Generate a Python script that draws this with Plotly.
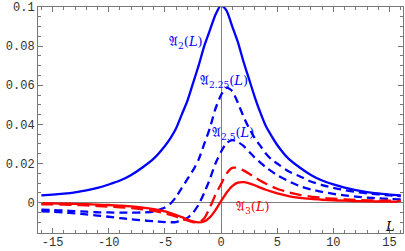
import plotly.graph_objects as go

L = [-16, -15, -14, -13, -12, -11, -10, -9, -8, -7, -6, -5, -4.5, -4, -3.5, -3, -2.5, -2, -1.5, -1, -0.5,
     0, 0.5, 1, 1.5, 2, 2.5, 3, 3.5, 4, 4.5, 5, 6, 7, 8, 9, 10, 11, 12, 13, 14, 15, 16]

A2 = [0.0037, 0.0041, 0.0046, 0.0053, 0.0063, 0.0076, 0.0093, 0.0113, 0.0142, 0.018, 0.0225, 0.029, 0.033,
      0.038, 0.045, 0.052, 0.061, 0.070, 0.080, 0.088, 0.096, 0.101, 0.098, 0.090, 0.082, 0.072, 0.063, 0.054,
      0.046, 0.039, 0.034, 0.0295, 0.0225, 0.018, 0.0142, 0.0113, 0.0093, 0.0077, 0.0064, 0.0054, 0.0047,
      0.0041, 0.0037]

A225 = [-0.0036, -0.0038, -0.004, -0.0043, -0.0046, -0.0049, -0.005, -0.0051, -0.0051, -0.005, -0.0045,
        -0.0025, -0.0005, 0.003, 0.0075, 0.012, 0.0165, 0.022, 0.030, 0.038, 0.048, 0.055, 0.0588, 0.057,
        0.051, 0.044, 0.038, 0.033, 0.029, 0.025, 0.022, 0.020, 0.016, 0.0135, 0.0108, 0.009, 0.0076, 0.0064,
        0.0055, 0.0048, 0.0042, 0.0037, 0.0034]

A25 = [-0.0044, -0.0046, -0.005, -0.0055, -0.006, -0.0066, -0.0072, -0.0079, -0.0085, -0.009, -0.0095,
       -0.0099, -0.010, -0.0099, -0.0092, -0.0078, -0.0052, -0.001, 0.005, 0.012, 0.020, 0.026, 0.0305, 0.032,
       0.031, 0.029, 0.026, 0.023, 0.0205, 0.018, 0.016, 0.014, 0.011, 0.0085, 0.0068, 0.0055, 0.0045, 0.0037,
       0.0031, 0.0026, 0.0022, 0.0019, 0.0017]

A275 = [-0.0008, -0.0009, -0.001, -0.0012, -0.0014, -0.0017, -0.002, -0.0024, -0.0028, -0.0034, -0.0042,
        -0.0055, -0.0063, -0.0072, -0.0082, -0.0091, -0.0099, -0.0102, -0.008, -0.0025, 0.004, 0.0095, 0.015,
        0.0178, 0.0178, 0.0165, 0.0148, 0.013, 0.0112, 0.0097, 0.0083, 0.0071, 0.0053, 0.004, 0.0031, 0.0025,
        0.002, 0.0017, 0.0014, 0.0012, 0.0011, 0.001, 0.0009]

A3 = [-0.0003, -0.0004, -0.0005, -0.0006, -0.0008, -0.001, -0.0012, -0.0015, -0.0019, -0.0025, -0.0033,
      -0.0045, -0.0053, -0.0063, -0.0074, -0.0086, -0.0096, -0.0101, -0.0096, -0.0075, -0.0038, 0.0008,
      0.0052, 0.0085, 0.0102, 0.0105, 0.0099, 0.0089, 0.0077, 0.0066, 0.0056, 0.0047, 0.0034, 0.0025, 0.0019,
      0.0015, 0.0012, 0.001, 0.0008, 0.0007, 0.0006, 0.0005, 0.0004]

x_ticks = [-15, -10, -5, 0, 5, 10, 15]
x_tick_labels = ["-15", "-10", "-5", "0", "5", "10", "15"]
y_ticks = [0, 0.02, 0.04, 0.06, 0.08, 0.1]
y_tick_labels = ["0", "0.02", "0.04", "0.06", "0.08", "0.1"]

BLUE = "rgb(0,0,255)"
RED = "rgb(255,0,0)"

series = [
    (A2, BLUE, "solid"),
    (A225, BLUE, "8px,5px"),
    (A25, BLUE, "8px,5px"),
    (A275, RED, "12px,6px"),
    (A3, RED, "solid"),
]

fig = go.Figure()
for ys, col, dash in series:
    fig.add_trace(go.Scatter(x=L, y=ys, mode="lines",
                             line=dict(color=col, width=2.3, dash=dash, shape="spline", smoothing=0.6),
                             showlegend=False, cliponaxis=True))

axis_common = dict(showline=True, linecolor="rgb(120,120,120)", linewidth=1, mirror="allticks",
                   ticks="inside", ticklen=5, tickcolor="rgb(120,120,120)", showgrid=False,
                   zeroline=True, zerolinecolor="rgb(128,128,128)", zerolinewidth=1, automargin=False,
                   tickfont=dict(family="Liberation Mono", size=12, color="rgb(50,50,50)"))

fig.update_xaxes(range=[-16.3, 16.2], tickvals=x_ticks, ticktext=x_tick_labels, ticklabelstandoff=-2,
                 minor=dict(dtick=1, ticks="inside", ticklen=3, tickcolor="rgb(120,120,120)"),
                 **axis_common)
fig.update_yaxes(range=[-0.0155, 0.1], tickvals=y_ticks, ticktext=y_tick_labels,
                 minor=dict(dtick=0.005, tick0=0, ticks="inside", ticklen=3, tickcolor="rgb(120,120,120)"),
                 **axis_common)

lab_font = dict(family="DejaVu Serif", size=13)
annots = [
    ("𝔄<sub>2</sub>(<i>L</i>)", -3.1, 0.082, BLUE),
    ("𝔄<sub>2.25</sub>(<i>L</i>)", 0.3, 0.062, BLUE),
    ("𝔄<sub>2.5</sub>(<i>L</i>)", 1.1, 0.0355, BLUE),
    ("𝔄<sub>3</sub>(<i>L</i>)", 2.8, -0.0025, RED),
    ("<i>L</i>", 15.0, -0.012, "black"),
]
for txt, ax_, ay_, col in annots:
    fig.add_annotation(x=ax_, y=ay_, text=txt, showarrow=False, font=dict(color=col, **lab_font))

fig.update_layout(width=405, height=251, margin=dict(l=38, r=2, t=7, b=18),
                  plot_bgcolor="white", paper_bgcolor="white")

fig.write_html("out.html", config={"displayModeBar": False},
               post_script="document.body.style.margin='0';document.body.style.padding='0';")
